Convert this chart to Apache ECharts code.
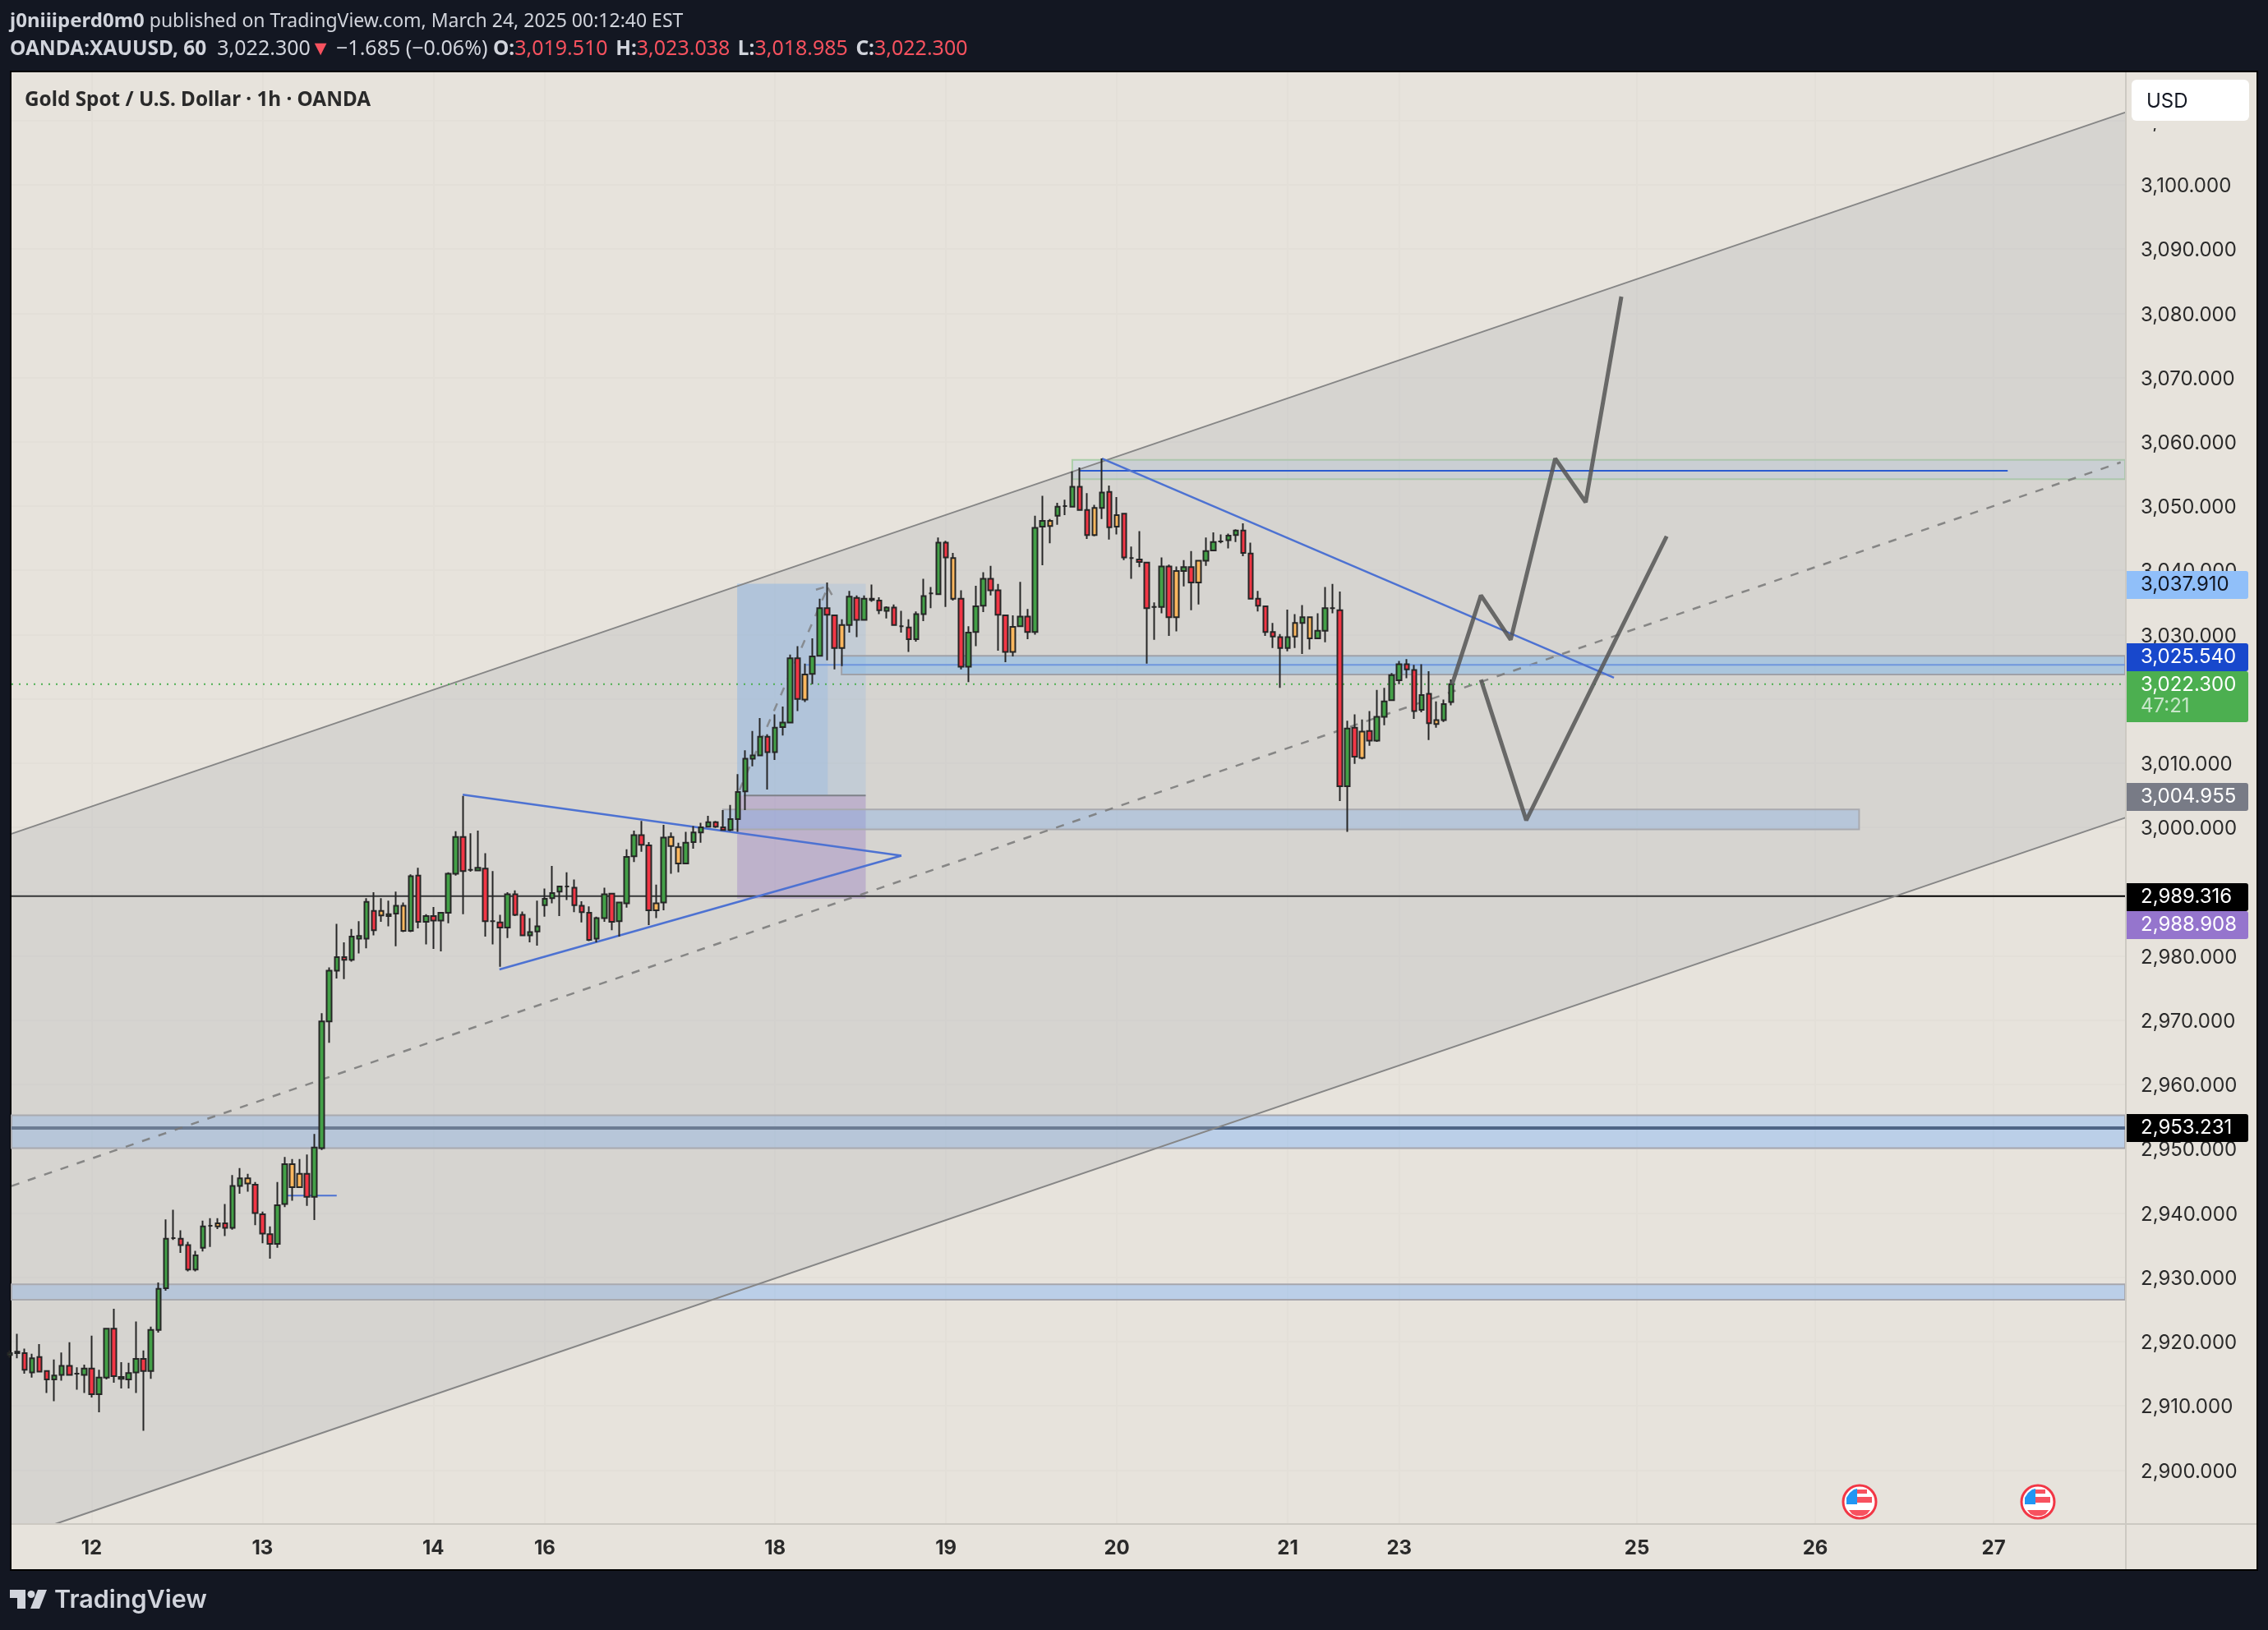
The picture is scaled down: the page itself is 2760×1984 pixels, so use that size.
<!DOCTYPE html>
<html>
<head>
<meta charset="utf-8">
<title>XAUUSD 1h</title>
<script src="https://cdn.jsdelivr.net/npm/echarts@6/dist/echarts.min.js"></script>
<style>
html, body { margin: 0; padding: 0; background: #131722; }
#main { width: 2760px; height: 1984px; }
</style>
</head>
<body>
<div id="main"></div>
<script>
// hourly bars, first one sits at bar number -1 (half hidden behind the left edge)
var firstBar = -1;
var opens = [
	2917.9, 2918.2, 2918.2, 2915.2, 2917.6, 2915.4, 2914.1, 2914.8, 2916.2, 2915.0,
	2914.8, 2915.8, 2911.8, 2914.4, 2922.0, 2914.2, 2914.1, 2915.2, 2917.3, 2915.4,
	2921.8, 2928.3, 2936.1, 2936.0, 2935.0, 2931.2, 2934.6, 2938.0, 2938.4, 2938.4,
	2937.7, 2944.2, 2945.4, 2944.4, 2939.8, 2936.7, 2935.2, 2941.4, 2947.6, 2946.1,
	2946.1, 2942.5, 2950.1, 2969.8, 2977.7, 2979.8, 2979.4, 2982.7, 2982.7, 2987.0,
	2987.0, 2986.2, 2986.6, 2987.8, 2983.9, 2992.5, 2985.3, 2986.2, 2985.5, 2986.7,
	2992.8, 2998.5, 2993.4, 2993.3, 2993.6, 2985.4, 2985.2, 2984.4, 2989.6, 2986.4,
	2983.2, 2983.8, 2987.9, 2989.0, 2990.0, 2990.8, 2990.6, 2987.8, 2986.7, 2982.7,
	2985.9, 2989.7, 2985.4, 2988.2, 2995.5, 2998.8, 2997.2, 2988.2, 2988.3, 2998.5,
	2996.9, 2994.4, 2997.7, 2999.2, 3000.1, 3000.8, 3000.0, 2999.6, 3001.3, 3005.6,
	3010.7, 3011.2, 3014.1, 3011.7, 3015.6, 3016.3, 3026.3, 3023.8, 3023.9, 3026.7,
	3034.1, 3033.0, 3031.5, 3031.5, 3035.7, 3032.3, 3035.4, 3035.3, 3033.7, 3034.2,
	3031.3, 3031.1, 3029.3, 3033.2, 3036.4, 3036.3, 3044.3, 3041.9, 3035.6, 3025.0,
	3030.4, 3034.5, 3038.7, 3036.9, 3033.0, 3031.2, 3031.3, 3032.8, 3030.4, 3046.8,
	3047.7, 3048.5, 3050.0, 3049.9, 3053.0, 3049.4, 3049.7, 3049.7, 3052.2, 3048.6,
	3048.8, 3041.9, 3041.7, 3041.2, 3034.3, 3034.3, 3040.6, 3039.9, 3039.9, 3040.5,
	3041.5, 3041.5, 3043.1, 3044.5, 3044.7, 3045.5, 3046.2, 3042.6, 3035.6, 3034.4,
	3030.4, 3029.6, 3027.9, 3031.8, 3031.8, 3032.7, 3029.4, 3030.6, 3034.1, 3033.8,
	3006.4, 3015.5, 3014.9, 3015.0, 3013.5, 3017.2, 3019.8, 3022.9, 3025.4, 3024.5,
	3018.3, 3020.8, 3016.7, 3016.7, 3019.5
];
var closes = [
	2918.2, 2918.4, 2915.6, 2917.4, 2915.3, 2914.1, 2914.7, 2916.2, 2914.8, 2915.0,
	2915.8, 2911.8, 2914.4, 2922.0, 2914.6, 2914.5, 2915.1, 2917.3, 2915.4, 2921.8,
	2928.2, 2936.0, 2936.1, 2935.0, 2931.2, 2933.4, 2937.9, 2938.0, 2937.9, 2937.7,
	2944.2, 2945.4, 2944.6, 2940.0, 2936.8, 2935.2, 2941.2, 2947.6, 2944.0, 2944.0,
	2942.5, 2950.2, 2969.8, 2977.7, 2979.8, 2979.4, 2983.0, 2983.1, 2988.4, 2984.0,
	2986.3, 2986.5, 2987.8, 2983.9, 2992.4, 2985.3, 2986.2, 2985.5, 2986.7, 2992.8,
	2998.5, 2993.2, 2993.4, 2993.7, 2985.4, 2985.4, 2984.4, 2989.6, 2986.4, 2983.2,
	2983.7, 2984.6, 2988.9, 2989.8, 2990.8, 2990.8, 2987.9, 2986.8, 2982.5, 2985.9,
	2989.6, 2985.3, 2988.3, 2995.4, 2998.8, 2997.3, 2987.1, 2987.1, 2998.4, 2997.1,
	2994.4, 2997.6, 2999.2, 3000.0, 3000.8, 3000.1, 2999.6, 3001.3, 3005.5, 3010.7,
	3011.2, 3014.1, 3011.7, 3015.5, 3016.3, 3026.3, 3020.0, 3019.9, 3026.6, 3034.1,
	3033.1, 3027.9, 3027.9, 3035.9, 3032.3, 3035.6, 3035.6, 3033.8, 3034.2, 3031.5,
	3031.3, 3029.3, 3033.2, 3036.0, 3036.4, 3044.3, 3042.0, 3035.6, 3025.0, 3030.3,
	3034.4, 3038.7, 3036.9, 3033.1, 3027.3, 3027.3, 3032.8, 3030.4, 3046.6, 3047.7,
	3046.9, 3049.9, 3050.0, 3053.0, 3049.4, 3045.5, 3045.5, 3052.1, 3046.7, 3046.8,
	3042.0, 3041.9, 3041.3, 3034.1, 3034.3, 3040.6, 3032.7, 3032.7, 3040.5, 3038.1,
	3038.1, 3043.0, 3044.4, 3044.5, 3045.4, 3046.2, 3042.7, 3035.6, 3034.5, 3030.4,
	3029.7, 3027.9, 3029.6, 3029.7, 3032.7, 3029.4, 3030.6, 3034.1, 3034.1, 3006.4,
	3015.4, 3011.0, 3010.8, 3013.5, 3017.2, 3019.6, 3023.7, 3025.4, 3024.6, 3018.1,
	3020.6, 3016.2, 3016.1, 3019.2, 3022.3
];
var lows = [
	2917.5, 2917.4, 2915.0, 2914.4, 2915.3, 2912.0, 2910.7, 2913.9, 2914.8, 2912.5,
	2912.0, 2911.3, 2909.0, 2914.1, 2913.6, 2912.7, 2912.7, 2912.0, 2906.1, 2914.2,
	2921.4, 2927.9, 2935.8, 2933.8, 2930.9, 2930.9, 2934.0, 2934.7, 2937.5, 2936.4,
	2937.4, 2943.0, 2943.3, 2938.1, 2935.3, 2932.9, 2934.6, 2940.9, 2941.9, 2944.0,
	2941.1, 2938.9, 2949.8, 2966.5, 2976.5, 2976.4, 2979.1, 2980.4, 2981.2, 2983.2,
	2985.3, 2984.6, 2981.5, 2983.7, 2983.7, 2984.3, 2981.8, 2981.1, 2980.7, 2985.1,
	2992.5, 2986.5, 2993.1, 2993.3, 2983.0, 2981.8, 2978.3, 2982.8, 2986.2, 2983.1,
	2982.1, 2981.6, 2986.1, 2988.2, 2986.2, 2988.7, 2986.8, 2985.2, 2982.3, 2982.1,
	2985.3, 2984.0, 2983.0, 2987.5, 2994.6, 2996.2, 2984.8, 2985.9, 2987.1, 2992.8,
	2993.0, 2994.3, 2996.7, 2997.6, 3000.0, 2999.9, 2999.5, 2999.4, 2999.3, 3002.7,
	3009.5, 3011.2, 3005.9, 3010.5, 3014.3, 3016.3, 3018.1, 3019.5, 3022.3, 3026.7,
	3026.0, 3024.6, 3025.1, 3030.3, 3029.6, 3032.3, 3035.1, 3033.2, 3032.5, 3031.4,
	3030.3, 3027.3, 3028.9, 3032.1, 3034.1, 3036.3, 3034.3, 3035.3, 3024.6, 3022.6,
	3028.2, 3033.5, 3036.1, 3027.5, 3025.7, 3026.6, 3031.3, 3029.3, 3030.0, 3040.8,
	3044.2, 3047.1, 3048.6, 3049.8, 3049.3, 3044.9, 3045.3, 3048.0, 3044.8, 3045.6,
	3041.6, 3038.7, 3040.5, 3025.5, 3029.2, 3033.3, 3029.8, 3030.5, 3037.5, 3033.8,
	3034.7, 3040.7, 3043.0, 3044.2, 3043.4, 3044.4, 3042.2, 3035.6, 3033.6, 3029.8,
	3027.9, 3021.7, 3027.4, 3027.9, 3027.0, 3027.7, 3029.4, 3028.8, 3033.3, 3004.1,
	2999.3, 3009.9, 3010.6, 3012.7, 3013.3, 3015.9, 3019.7, 3022.3, 3023.2, 3016.9,
	3017.9, 3013.6, 3015.5, 3016.4, 3018.985
];
var highs = [
	2918.6, 2921.2, 2918.9, 2918.1, 2919.6, 2915.4, 2917.2, 2918.3, 2919.9, 2916.0,
	2916.4, 2920.9, 2915.6, 2922.0, 2925.1, 2916.8, 2916.7, 2923.1, 2918.6, 2922.3,
	2929.2, 2939.0, 2940.5, 2937.3, 2935.5, 2934.1, 2938.8, 2939.2, 2939.2, 2941.4,
	2945.9, 2947.0, 2946.1, 2944.8, 2940.2, 2937.9, 2944.8, 2948.7, 2948.4, 2948.4,
	2949.1, 2952.3, 2971.1, 2978.2, 2985.0, 2982.1, 2984.2, 2985.4, 2989.0, 2989.9,
	2989.0, 2988.6, 2990.0, 2988.3, 2992.7, 2993.7, 2986.5, 2987.6, 2986.8, 2993.0,
	2999.4, 3004.9, 2999.1, 2999.5, 2996.0, 2993.2, 2986.4, 2989.9, 2990.2, 2986.9,
	2985.9, 2988.6, 2990.5, 2994.0, 2990.9, 2993.0, 2991.9, 2988.5, 2987.7, 2986.1,
	2990.6, 2989.7, 2988.3, 2996.6, 2999.5, 3001.0, 2997.7, 2991.1, 3000.4, 2999.2,
	2997.6, 2999.3, 3000.2, 3000.7, 3001.8, 3001.0, 3002.7, 3003.5, 3008.3, 3012.0,
	3015.0, 3017.0, 3014.5, 3017.6, 3018.8, 3026.9, 3028.2, 3025.5, 3029.4, 3035.6,
	3038.1, 3033.1, 3032.4, 3036.8, 3036.1, 3036.1, 3037.8, 3035.8, 3034.4, 3034.7,
	3033.7, 3032.4, 3033.6, 3038.7, 3037.4, 3045.1, 3044.6, 3042.7, 3036.9, 3031.3,
	3037.6, 3039.7, 3040.7, 3037.9, 3033.0, 3033.0, 3038.2, 3034.0, 3048.5, 3051.6,
	3048.0, 3050.5, 3051.0, 3055.4, 3056.0, 3052.0, 3050.2, 3057.4, 3053.2, 3051.4,
	3048.8, 3043.7, 3046.1, 3041.2, 3035.0, 3042.0, 3040.9, 3040.6, 3041.6, 3043.0,
	3041.6, 3045.1, 3045.9, 3045.6, 3045.7, 3046.4, 3047.3, 3044.3, 3036.8, 3034.5,
	3031.8, 3030.1, 3033.9, 3033.2, 3034.6, 3032.8, 3033.3, 3037.4, 3037.9, 3036.7,
	3016.6, 3017.6, 3016.8, 3018.1, 3021.4, 3021.7, 3024.0, 3025.9, 3026.2, 3025.3,
	3025.4, 3024.3, 3019.6, 3019.9, 3023.038
];
// g green, r red, o orange
var tones = [
	'g', 'g', 'r', 'g', 'r', 'r', 'g', 'g', 'r', 'g',
	'g', 'r', 'g', 'g', 'r', 'g', 'g', 'g', 'r', 'g',
	'g', 'g', 'g', 'r', 'r', 'g', 'g', 'g', 'o', 'r',
	'g', 'g', 'o', 'r', 'r', 'r', 'g', 'g', 'o', 'o',
	'r', 'g', 'g', 'g', 'g', 'r', 'g', 'g', 'g', 'r',
	'o', 'g', 'g', 'o', 'g', 'r', 'g', 'r', 'g', 'g',
	'g', 'r', 'g', 'g', 'r', 'g', 'r', 'g', 'r', 'r',
	'g', 'g', 'g', 'g', 'g', 'g', 'r', 'r', 'r', 'g',
	'g', 'r', 'g', 'g', 'g', 'r', 'r', 'o', 'g', 'o',
	'o', 'g', 'g', 'g', 'g', 'r', 'r', 'g', 'g', 'g',
	'g', 'g', 'r', 'g', 'g', 'g', 'r', 'o', 'g', 'g',
	'r', 'r', 'o', 'g', 'r', 'g', 'g', 'r', 'g', 'r',
	'g', 'r', 'g', 'g', 'g', 'g', 'r', 'o', 'r', 'g',
	'g', 'g', 'r', 'r', 'r', 'o', 'g', 'r', 'g', 'g',
	'o', 'g', 'g', 'g', 'r', 'r', 'o', 'g', 'r', 'o',
	'r', 'g', 'r', 'r', 'g', 'g', 'r', 'o', 'g', 'r',
	'o', 'g', 'g', 'g', 'g', 'g', 'r', 'r', 'r', 'r',
	'r', 'r', 'g', 'o', 'g', 'o', 'g', 'g', 'g', 'r',
	'g', 'r', 'o', 'r', 'g', 'g', 'g', 'g', 'r', 'r',
	'g', 'r', 'o', 'g', 'g'
];

var priceTicks = [2900, 2910, 2920, 2930, 2940, 2950, 2960, 2970, 2980, 2990, 3000, 3010, 3020, 3030, 3040, 3050, 3060, 3070, 3080, 3090, 3100, 3110];
var dateBars = [10, 33, 56, 71, 102, 125, 148, 171, 186, 218, 242, 266];
var dateLabels = ['12', '13', '14', '16', '18', '19', '20', '21', '23', '25', '26', '27'];

// drawings, in [bar, price]
var channelUpper = [[-0.77, 2999.0], [283.7, 3111.25]];
var channelLower = [[5.09, 2891.6], [283.7, 3001.5]];
var channelMiddle = [[-0.77, 2944.2], [283.1, 3056.8]];
var triangleUpper = [[59.96, 3005.1], [119.0, 2995.6]];
var triangleLower = [[64.9, 2977.9], [119.0, 2995.6]];
var fallingLine = [[146.0, 3057.4], [214.9, 3023.3]];
var smallLevel = [[36.3, 2942.7], [43.0, 2942.7]];
var zoneLevelHigh = [[142.9, 3055.5], [267.9, 3055.5]];
var zoneLevelMid = [[106.1, 3025.3], [283.7, 3025.3]];
var blackLevel = [[-0.77, 2989.316], [283.7, 2989.316]];
var navyLevel = [[-0.77, 2953.231], [283.7, 2953.231]];
var lastPrice = [[-0.77, 3022.3], [283.7, 3022.3]];
var poleDash = [[97.2, 3005.8], [109.0, 3037.1]];
var poleCap = [[107.5, 3037.0], [109.0, 3037.5], [109.7, 3036.1]];
var forecastUp = [[193.1, 3022.2], [197.0, 3036.1], [201.0, 3029.2], [207.0, 3057.4], [211.1, 3050.6], [215.9, 3082.6]];
var forecastDip = [[197.0, 3023.0], [203.1, 3001.1], [222.0, 3045.3]];

// [from bar, to bar, high price, low price]
var zoneTop = [142.0, 283.7, 3057.2, 3054.2];
var zoneResist = [110.95, 283.7, 3026.7, 3023.8];
var zoneSupport = [95.0, 247.9, 3002.8, 2999.7];
var zoneMain = [-0.77, 283.7, 2955.2, 2950.1];
var zoneLow = [-0.77, 283.7, 2928.9, 2926.5];
var targetLeft = [96.9, 109.1, 3037.91, 3004.955];
var targetRight = [109.1, 114.2, 3037.91, 3004.955];
var stopBox = [96.9, 114.2, 3004.955, 2988.908];
var stopTop = [[97.8, 3004.955], [114.2, 3004.955]];

var gridLeft = 14, gridRight = 2587, gridTop = 88, gridBottom = 1855;
var green = '#43a047', red = '#f23645', orange = '#fbb75e';
var toneColors = { g: green, r: red, o: orange };

var candleData = opens.map(function(o, i) {
	var c = toneColors[tones[i]];
	return {
		value: [i + firstBar, o, closes[i], lows[i], highs[i]],
		itemStyle: { color: c, color0: c }
	};
});

function lineSeries(points, color, width, type, z) {
	return {
		type: 'line',
		silent: true,
		showSymbol: false,
		symbol: 'none',
		z: z || 2,
		data: points,
		lineStyle: { color: color, width: width, type: type || 'solid', cap: 'butt' }
	};
}

function boxSeries(box, fill, stroke) {
	return {
		type: 'custom',
		silent: true,
		z: 1,
		data: [box],
		renderItem: function(params, api) {
			var a = api.coord([api.value(0), api.value(2)]);
			var b = api.coord([api.value(1), api.value(3)]);
			return {
				type: 'rect',
				shape: { x: a[0], y: a[1], width: b[0] - a[0], height: b[1] - a[1] },
				style: { fill: fill, stroke: stroke, lineWidth: stroke ? 2 : 0 }
			};
		}
	};
}

// the channel fill lies over the zones and levels and dims them, candles stay on top
var channelSeries = {
	type: 'custom',
	silent: true,
	z: 3,
	data: [[0, 0]],
	renderItem: function(params, api) {
		var pts = [
			channelUpper[0], channelUpper[1], channelLower[1], channelLower[0],
			[channelUpper[0][0], channelLower[0][1]]
		].map(function(p) { return api.coord(p); });
		return {
			type: 'polygon',
			shape: { points: pts },
			style: { fill: 'rgba(176,178,182,0.3)' }
		};
	}
};

function money(v) {
	var parts = v.toFixed(3).split('.');
	return parts[0].replace(/\B(?=(\d{3})+$)/g, ',') + '.' + parts[1];
}

// tags on the price scale: they get pushed apart, so they do not always sit on their price
var tagValues = [3037.91, 3025.54, 3022.3, 3004.955, 2989.316, 2988.908, 2953.231];
var tagCenters = [712, 800, 834, 970, 1092, 1126, 1373];
var tagFills = ['#90bff9', '#1848cc', '#4caf50', '#787b86', '#000000', '#9575cd', '#000000'];
var tagText = ['#131722', '#ffffff', '#ffffff', '#ffffff', '#ffffff', '#ffffff', '#ffffff'];

var axisFont = 'Inter';
var graphics = [
	{ type: 'rect', z: -10, shape: { x: 13, y: 87, width: 2734, height: 1824 }, style: { fill: '#e7e3dc', stroke: '#000', lineWidth: 2 } },
	{ type: 'text', z: 200, x: 12, y: 26, style: { text: '{b|j0niiiperd0m0} published on TradingView.com, March 24, 2025 00:12:40 EST', fill: '#d1d4dc', font: '23px "Noto Sans"', verticalAlign: 'middle', rich: { b: { fill: '#d1d4dc', font: 'bold 24px "Noto Sans"' } } } },
	{ type: 'text', z: 200, x: 12, y: 60, style: { text: '{b|OANDA:XAUUSD, 60}  3,022.300{v|▼} −1.685 (−0.06%) {b|O:}{r|3,019.510} {c|H:}{r|3,023.038} {c|L:}{r|3,018.985} {c|C:}{r|3,022.300}', fill: '#d1d4dc', font: '25px "Noto Sans"', verticalAlign: 'middle', rich: {
		b: { fill: '#d1d4dc', font: 'bold 24.5px "Noto Sans"' },
		c: { fill: '#d1d4dc', font: 'bold 24.5px "Noto Sans"', padding: [0, 0, 0, 3] },
		r: { fill: '#f7525f', font: '25px "Noto Sans"' },
		v: { fill: '#f7525f', font: '25px "Noto Sans"' }
	} } },
	{ type: 'text', z: 200, x: 30, y: 122, style: { text: 'Gold Spot / U.S. Dollar · 1h · OANDA', fill: '#2a2a2a', font: 'bold 24.3px "Noto Sans"', verticalAlign: 'middle' } },
	{ type: 'line', z: 40, shape: { x1: gridRight, y1: 88, x2: gridRight, y2: 1910 }, style: { stroke: '#ccc9c2', lineWidth: 2 } },
	{ type: 'line', z: 40, shape: { x1: 14, y1: gridBottom, x2: 2746, y2: gridBottom }, style: { stroke: '#ccc9c2', lineWidth: 2 } },
	// the USD button hides the top scale label
	{ type: 'rect', z: 49, shape: { x: 2589, y: 89, width: 157, height: 67 }, style: { fill: '#e7e3dc' } },
	{ type: 'rect', z: 50, shape: { x: 2594, y: 97, width: 143, height: 50, r: 6 }, style: { fill: '#ffffff' } },
	{ type: 'text', z: 51, x: 2612, y: 124, style: { text: 'USD', fill: '#131722', font: '24px ' + axisFont, verticalAlign: 'middle' } },
	// TradingView mark and name
	{ type: 'polygon', z: 200, shape: { points: [[12, 1935], [31, 1935], [31, 1958], [21, 1958], [21, 1945], [12, 1945]] }, style: { fill: '#d1d4dc' } },
	{ type: 'circle', z: 200, shape: { cx: 38, cy: 1940.5, r: 4.5 }, style: { fill: '#d1d4dc' } },
	{ type: 'polygon', z: 200, shape: { points: [[46, 1935], [57, 1935], [48, 1958], [37, 1958]] }, style: { fill: '#d1d4dc' } },
	{ type: 'text', z: 200, x: 66, y: 1948, style: { text: 'TradingView', fill: '#d1d4dc', font: '600 30.5px Inter', verticalAlign: 'middle' } }
];

tagValues.forEach(function(v, i) {
	var h = i === 2 ? 62 : 34;
	graphics.push({ type: 'rect', z: 60 + i, shape: { x: 2588, y: tagCenters[i] - 17, width: 148, height: h, r: [0, 3, 3, 0] }, style: { fill: tagFills[i] } });
	graphics.push({ type: 'text', z: 60 + i, x: 2605, y: tagCenters[i], style: { text: money(v), fill: tagText[i], font: '24px ' + axisFont, verticalAlign: 'middle' } });
});
graphics.push({ type: 'text', z: 70, x: 2605, y: 860, style: { text: '47:21', fill: '#c8e6c9', font: '24px ' + axisFont, verticalAlign: 'middle' } });

// two event flags
[2263, 2480].forEach(function(cx) {
	var cy = 1828;
	graphics.push(
		{ type: 'circle', z: 30, shape: { cx: cx, cy: cy, r: 20 }, style: { fill: '#fff', stroke: '#f23645', lineWidth: 3 } },
		{ type: 'rect', z: 31, shape: { x: cx - 3, y: cy - 6, width: 18, height: 7 }, style: { fill: '#f7525f' } },
		{ type: 'rect', z: 31, shape: { x: cx - 3, y: cy - 15, width: 12, height: 5 }, style: { fill: '#f7525f' } },
		{ type: 'polygon', z: 31, shape: { points: [[cx - 13, cy + 10], [cx + 13, cy + 10], [cx + 9, cy + 15], [cx + 4, cy + 17], [cx - 4, cy + 17], [cx - 9, cy + 15]] }, style: { fill: '#f7525f' } },
		{ type: 'polygon', z: 32, shape: { points: [[cx - 16, cy + 3], [cx - 16, cy - 5], [cx - 12, cy - 11], [cx - 7, cy - 15], [cx - 3, cy - 16], [cx - 3, cy + 3]] }, style: { fill: '#2196f3' } }
	);
});

var series = [
	boxSeries(targetLeft, 'rgba(100,170,255,0.4)', null),
	boxSeries(targetRight, 'rgba(100,170,255,0.2)', null),
	boxSeries(stopBox, 'rgba(128,80,200,0.33)', null),
	boxSeries(zoneMain, 'rgba(100,170,255,0.336)', '#a6a6ad'),
	boxSeries(zoneLow, 'rgba(100,170,255,0.336)', '#a6a6ad'),
	boxSeries(zoneSupport, 'rgba(100,170,255,0.336)', '#a6a6ad'),
	boxSeries(zoneResist, 'rgba(110,187,255,0.5)', '#999aa3'),
	boxSeries(zoneTop, 'rgba(100,170,255,0.13)', '#abcfa9'),
	lineSeries(navyLevel, '#4f6585', 4),
	lineSeries(blackLevel, '#000000', 2),
	lineSeries(stopTop, '#6a6c75', 2),
	channelSeries,
	lineSeries(channelUpper, '#868686', 2, 'solid', 4),
	lineSeries(channelLower, '#868686', 2, 'solid', 4),
	lineSeries(channelMiddle, 'rgba(120,120,120,0.85)', 2.5, [10, 11], 4),
	lineSeries(lastPrice, '#4caf50', 2, [2, 7], 4),
	lineSeries(zoneLevelHigh, '#2a5bd0', 2, 'solid', 4),
	lineSeries(zoneLevelMid, '#6f96dd', 2, 'solid', 4),
	lineSeries(triangleUpper, '#4d72d2', 2.5, 'solid', 4),
	lineSeries(triangleLower, '#4d72d2', 2.5, 'solid', 4),
	lineSeries(fallingLine, '#4d72d2', 2.5, 'solid', 4),
	lineSeries(smallLevel, '#4d72d2', 2, 'solid', 4),
	lineSeries(poleDash, 'rgba(120,120,120,0.75)', 2.5, [10, 11], 4),
	lineSeries(poleCap, 'rgba(120,120,120,0.75)', 2.5, [10, 6], 4),
	{
		type: 'candlestick',
		silent: true,
		z: 5,
		barWidth: 6,
		data: candleData,
		itemStyle: {
			color: green,
			color0: red,
			borderColor: '#262626',
			borderColor0: '#262626',
			borderColorDoji: '#262626',
			borderWidth: 2
		}
	},
	lineSeries(forecastUp, 'rgba(85,85,85,0.85)', 5, 'solid', 6),
	lineSeries(forecastDip, 'rgba(85,85,85,0.85)', 5, 'solid', 6)
];

var option = {
	animation: false,
	backgroundColor: '#131722',
	grid: { left: gridLeft, top: gridTop, width: gridRight - gridLeft, height: gridBottom - gridTop },
	xAxis: {
		type: 'value',
		min: -0.77,
		max: 283.8,
		axisLine: { show: false },
		axisTick: { show: false, customValues: dateBars },
		splitLine: { show: true, lineStyle: { color: '#e3dfd8', width: 2 } },
		axisLabel: {
			customValues: dateBars,
			margin: 18,
			color: '#2a2a2a',
			fontFamily: axisFont,
			fontWeight: 'bold',
			fontSize: 24,
			formatter: function(v) { return dateLabels[dateBars.indexOf(v)]; }
		}
	},
	yAxis: {
		type: 'value',
		position: 'right',
		min: 2891.6,
		max: 3117.5,
		axisLine: { show: false },
		axisTick: { show: false, customValues: priceTicks },
		splitLine: { show: true, lineStyle: { color: '#e3dfd8', width: 2 } },
		axisLabel: {
			customValues: priceTicks,
			margin: 18,
			align: 'left',
			verticalAlign: 'top',
			lineHeight: 4,
			color: '#2a2a2a',
			fontFamily: axisFont,
			fontSize: 24,
			formatter: money
		}
	},
	graphic: { elements: graphics },
	series: series
};

var my = echarts.init(document.getElementById('main'), null, { renderer: 'canvas' });
my.setOption(option);
</script>
</body>
</html>
